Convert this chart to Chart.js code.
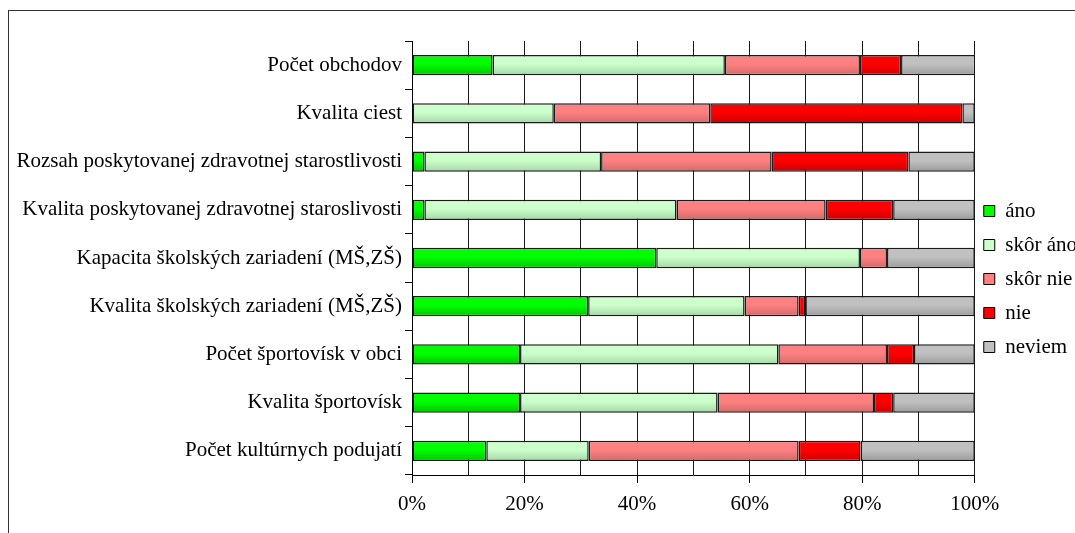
<!DOCTYPE html>
<html>
<head>
<meta charset="utf-8">
<script src="https://cdn.jsdelivr.net/npm/chart.js@4"></script>
<style>
  html, body { margin: 0; padding: 0; background: #fff; overflow: hidden; }
  #wrap { position: relative; width: 1091px; height: 533px; }
</style>
</head>
<body>
<div id="wrap"><canvas id="surveyChart"></canvas></div>
<script>
const categories = [
  'Počet obchodov',
  'Kvalita ciest',
  'Rozsah poskytovanej zdravotnej starostlivosti',
  'Kvalita poskytovanej zdravotnej staroslivosti',
  'Kapacita školských zariadení (MŠ,ZŠ)',
  'Kvalita školských zariadení (MŠ,ZŠ)',
  'Počet športovísk v obci',
  'Kvalita športovísk',
  'Počet kultúrnych podujatí'
];

const ano      = [14.3,  0.0,  2.2,  2.2, 43.4, 31.3, 19.2, 19.2, 13.2];
const skorAno  = [41.3, 25.2, 31.4, 44.8, 36.2, 27.8, 45.9, 35.1, 18.2];
const skorNie  = [24.0, 27.8, 30.3, 26.5,  4.8,  9.6, 19.3, 27.8, 37.3];
const nie      = [ 7.3, 44.8, 24.3, 12.0,  0.0,  1.2,  4.8,  3.4, 11.0];
const neviem   = [13.2,  2.2, 11.8, 14.5, 15.6, 30.1, 10.8, 14.5, 20.3];

const seriesNames = ['áno', 'skôr áno', 'skôr nie', 'nie', 'neviem'];
const xTicks = [0, 20, 40, 60, 80, 100];

// top / bottom shade of each series
const shades = [
  ['#00ff00', '#00c400'],
  ['#ccffcc', '#a6d6a6'],
  ['#ff8080', '#d06a6a'],
  ['#ff0000', '#cc0000'],
  ['#c0c0c0', '#9c9c9c']
];

const BAR = 20;

function shaded(i) {
  return (c) => {
    const chart = c.chart;
    const y = chart.scales && chart.scales.y;
    if (!y || c.dataIndex === undefined || !chart.chartArea) return shades[i][0];
    const mid = y.getPixelForValue(c.dataIndex);
    const g = chart.ctx.createLinearGradient(0, mid - BAR / 2, 0, mid + BAR / 2);
    g.addColorStop(0, shades[i][0]);
    g.addColorStop(0.45, shades[i][0]);
    g.addColorStop(1, shades[i][1]);
    return g;
  };
}

const values = [ano, skorAno, skorNie, nie, neviem];

const frame = {
  id: 'frame',
  beforeDraw(chart) {
    const c = chart.ctx;
    c.save();
    c.fillStyle = '#fff';
    c.fillRect(0, 0, chart.width, chart.height);
    c.strokeStyle = '#333';
    c.lineWidth = 1;
    c.strokeRect(8.5, 10.5, chart.width + 20, chart.height + 20);
    c.restore();
  }
};

// pull the legend a little closer to the plot
const legendNudge = {
  id: 'legendNudge',
  afterLayout(chart) {
    if (chart.legend) {
      chart.legend.left -= 4;
      chart.legend.right -= 4;
    }
  }
};

Chart.defaults.color = '#000';
Chart.defaults.font.family = "'Liberation Serif', 'Times New Roman', serif";
Chart.defaults.font.size = 21;

new Chart(document.getElementById('surveyChart'), {
  type: 'bar',
  data: {
    labels: categories,
    datasets: values.map((data, i) => ({
      label: seriesNames[i],
      data: data,
      backgroundColor: shaded(i),
      borderColor: '#1a1a1a',
      borderWidth: 1.5,
      borderSkipped: false,
      categoryPercentage: 1,
      barPercentage: 0.42
    }))
  },
  options: {
    indexAxis: 'y',
    responsive: true,
    maintainAspectRatio: false,
    animation: false,
    layout: { padding: { top: 41, bottom: 16, left: 0, right: 0 } },
    scales: {
      x: {
        stacked: true,
        min: 0,
        max: 100,
        afterFit: (s) => { s.height = 42; },
        ticks: {
          stepSize: 10,
          padding: 9,
          maxRotation: 0,
          callback: (v) => xTicks.includes(v) ? v + '%' : ''
        },
        grid: {
          color: '#1a1a1a',
          lineWidth: 1,
          tickLength: 8,
          tickColor: (c) => (c.tick && xTicks.includes(c.tick.value)) ? '#000' : 'rgba(0,0,0,0)'
        },
        border: { color: '#000', width: 1 }
      },
      y: {
        stacked: true,
        afterFit: (s) => { s.width = 412; },
        ticks: { padding: 3 },
        grid: {
          drawOnChartArea: false,
          tickLength: 7,
          tickColor: '#000'
        },
        border: { color: '#000', width: 1 }
      }
    },
    plugins: {
      legend: {
        position: 'right',
        labels: {
          boxWidth: 11,
          boxHeight: 11,
          padding: 13,
          color: '#000',
          generateLabels: () => seriesNames.map((n, i) => ({
            text: n,
            fillStyle: shades[i][0],
            strokeStyle: '#000',
            lineWidth: 1,
            datasetIndex: i
          }))
        }
      },
      tooltip: { enabled: false }
    }
  },
  plugins: [frame, legendNudge]
});
</script>
</body>
</html>
